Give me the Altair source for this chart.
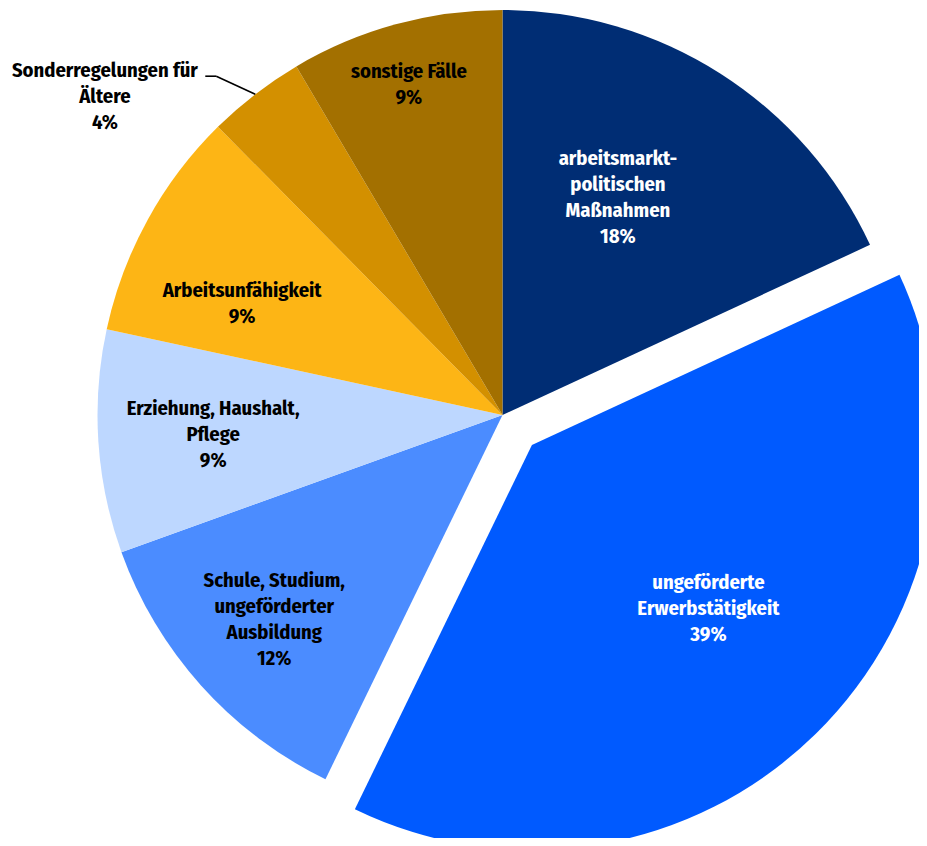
import altair as alt
import pandas as pd

# ---- data ----
categories = [
    "arbeitsmarktpolitischen Maßnahmen",
    "ungeförderte Erwerbstätigkeit",
    "Schule, Studium, ungeförderter Ausbildung",
    "Erziehung, Haushalt, Pflege",
    "Arbeitsunfähigkeit",
    "Sonderregelungen für Ältere",
    "sonstige Fälle",
]
label_lines = [
    "arbeitsmarkt-\npolitischen\nMaßnahmen",
    "ungeförderte\nErwerbstätigkeit",
    "Schule, Studium,\nungeförderter\nAusbildung",
    "Erziehung, Haushalt,\nPflege",
    "Arbeitsunfähigkeit",
    "Sonderregelungen für\nÄltere",
    "sonstige Fälle",
]
shares = [18.1, 39.1, 12.3, 8.9, 9.2, 3.9, 8.5]

# ---- styling ----
slice_colors = ["#002D74", "#005AFF", "#4B8CFF", "#BDD7FF", "#FDB515", "#D39000", "#A37000"]
text_colors = ["white", "white", "black", "black", "black", "black", "black"]
# label placement (fraction of radius, angle in degrees clockwise from 12 o'clock)
label_r = [0.609, 0.593, 0.756, 0.716, 0.70, 1.258, 0.849]
label_angle = [27.9, 132.7, 228.2, 266.2, 293.3, 308.7, 344.2]
EXPLODED = "ungeförderte Erwerbstätigkeit"
LEADER = "Sonderregelungen für Ältere"
EXPLODE_PX = 42
R = 405
CX, CY = 494.5, 407
FONT = "Fira Sans Condensed"
FONT_SIZE = 20.5
LINE_H = 26

texts = [f"{l}\n{int(s + 0.5)}%" for l, s in zip(label_lines, shares)]
n_lines = [t.count("\n") + 1 for t in texts]

df = pd.DataFrame({
    "cat": categories,
    "text": texts,
    "nl": n_lines,
    "share": shares,
    "color": slice_colors,
    "tcolor": text_colors,
    "order": list(range(len(categories))),
    "lr": label_r,
    "la": label_angle,
})

base = (
    alt.Chart(df)
    .transform_joinaggregate(total="sum(share)")
    .transform_window(cum="sum(share)", sort=[alt.SortField("order")], frame=[None, 0])
    .transform_calculate(t0="(datum.cum - datum.share) / datum.total * 2 * PI")
    .transform_calculate(t1="datum.cum / datum.total * 2 * PI")
    .transform_calculate(mid="(datum.t0 + datum.t1) / 2")
    .transform_calculate(ex=f"datum.cat == '{EXPLODED}' ? {EXPLODE_PX} : 0")
    .transform_calculate(cx=f"{CX} + datum.ex * sin(datum.mid)")
    .transform_calculate(cy=f"{CY} - datum.ex * cos(datum.mid)")
    .transform_calculate(lx=f"datum.cx + datum.lr * {R} * sin(datum.la * PI / 180)")
    .transform_calculate(
        ly=f"datum.cy - datum.lr * {R} * cos(datum.la * PI / 180) - (datum.nl - 1) * {LINE_H} / 2 + 1"
    )
)

arcs = base.mark_arc(radius=R).encode(
    theta=alt.Theta("t0:Q", scale=None),
    theta2="t1:Q",
    x=alt.X("cx:Q", scale=None, axis=None),
    y=alt.Y("cy:Q", scale=None, axis=None),
    color=alt.Color("color:N", scale=None),
)

labels = base.mark_text(
    font=FONT, fontSize=FONT_SIZE, fontWeight="bold", lineBreak="\n", lineHeight=LINE_H,
    align="center", baseline="middle",
).encode(
    x=alt.X("lx:Q", scale=None, axis=None),
    y=alt.Y("ly:Q", scale=None, axis=None),
    text="text:N",
    color=alt.Color("tcolor:N", scale=None),
)

lead = (
    base.transform_filter(f"datum.cat == '{LEADER}'")
    .transform_calculate(ex1=f"datum.cx + {R} * sin(datum.mid)")
    .transform_calculate(ey1=f"datum.cy - {R} * cos(datum.mid)")
    .transform_calculate(ex2="datum.ex1 - 39")
    .transform_calculate(ey2="datum.ey1 - 18")
    .transform_calculate(ex3="datum.ex2 - 11")
)
lead1 = lead.mark_rule(color="black", strokeWidth=1.6).encode(
    x=alt.X("ex1:Q", scale=None, axis=None), y=alt.Y("ey1:Q", scale=None, axis=None),
    x2="ex2:Q", y2="ey2:Q",
)
lead2 = lead.mark_rule(color="black", strokeWidth=1.6).encode(
    x=alt.X("ex2:Q", scale=None, axis=None), y=alt.Y("ey2:Q", scale=None, axis=None),
    x2="ex3:Q", y2="ey2:Q",
)

chart = (
    alt.layer(arcs, lead1, lead2, labels)
    .properties(width=911, height=830, padding=0, autosize="none", background="white")
    .configure_view(strokeWidth=0)
)

chart.save("out.html", embed_options={"renderer": "svg", "actions": False})
